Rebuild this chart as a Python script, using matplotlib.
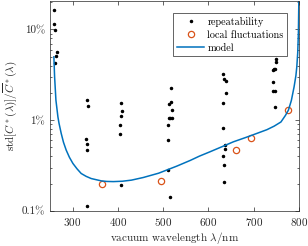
import numpy as np
import matplotlib
matplotlib.use('Agg')
import matplotlib.pyplot as plt
from matplotlib.ticker import FixedLocator, FuncFormatter, LogLocator, NullFormatter

plt.rcParams['font.family'] = 'serif'
plt.rcParams['font.serif'] = ['cmr10']
plt.rcParams['mathtext.fontset'] = 'cm'
plt.rcParams['axes.formatter.use_mathtext'] = True

# repeatability (wavelength in nm, relative std as fraction)
rep_wl = [259, 260, 262, 265, 263, 262,
          331, 335, 330, 331, 332, 333,
          408, 410, 407, 405, 405, 408,
          517, 518, 514, 519, 514, 516, 520, 510, 511, 511, 516,
          631, 634, 639, 639, 633, 631, 637, 636, 632, 634, 635,
          749, 750, 744, 746, 743, 743, 743, 746, 747]
rep_val = [0.164, 0.114, 0.099, 0.0566, 0.0512, 0.0422,
           0.0168, 0.0142, 0.00618, 0.0054, 0.00463, 0.00113,
           0.0153, 0.0126, 0.011, 0.00888, 0.00701, 0.00194,
           0.0224, 0.0159, 0.0151, 0.0131, 0.01045, 0.01045, 0.01045, 0.00887, 0.00597, 0.00283, 0.00142,
           0.0321, 0.0285, 0.0267, 0.0197, 0.0153, 0.00816, 0.00526, 0.00483, 0.00398, 0.00319, 0.00206,
           0.0467, 0.0436, 0.0368, 0.0365, 0.0353, 0.0261, 0.0212, 0.0212, 0.0141]

# local fluctuations
loc_wl = [364, 496, 660, 695, 776]
loc_val = [0.00197, 0.00214, 0.00467, 0.00638, 0.0131]

# model curve
mod_wl = [258.8, 260.4, 263.3, 267.7, 270, 275, 280, 286, 293, 300.8, 310, 319.1, 330,
          341.2, 363.3, 375, 390, 410, 430, 456, 490, 530, 560, 580, 603, 630, 655,
          680, 695, 710, 729, 745, 760, 770, 776.5, 783, 789, 793, 795, 797, 798.5, 799.5]
mod_val = [0.0499, 0.030, 0.0166, 0.01086, 0.0093, 0.00713, 0.0057, 0.00467, 0.0039, 0.00333,
           0.0029, 0.00258, 0.0024, 0.00227, 0.00214, 0.00211, 0.0021, 0.00212, 0.00218, 0.00233,
           0.0026, 0.00311, 0.0036, 0.00401, 0.00447, 0.0051, 0.00577, 0.00638, 0.00679, 0.00724,
           0.00785, 0.00859, 0.00955, 0.0113, 0.0129, 0.0165, 0.0233, 0.031, 0.0387, 0.055, 0.091, 0.205]

fig = plt.figure(figsize=(3.08, 2.46), dpi=100)
ax = fig.add_axes([0.162, 0.143, 0.809, 0.852])

ax.plot(rep_wl, rep_val, linestyle='none', marker='.', color='black', markersize=3,
        label='repeatability')
ax.plot(loc_wl, loc_val, linestyle='none', marker='o', markerfacecolor='none',
        markeredgecolor='#D95319', markersize=4.5, markeredgewidth=0.9,
        label='local fluctuations')
ax.plot(mod_wl, mod_val, color='#0072BD', linewidth=1.1, label='model')

ax.set_yscale('log')
ax.set_xlim(250, 800)
ax.set_ylim(0.001, 0.205)

ax.xaxis.set_major_locator(FixedLocator([300, 400, 500, 600, 700, 800]))
ax.yaxis.set_major_locator(FixedLocator([0.001, 0.01, 0.1]))
ax.yaxis.set_major_formatter(FuncFormatter(lambda v, p: {0.001: '0.1%', 0.01: '1%', 0.1: '10%'}.get(round(v, 4), '')))
ax.yaxis.set_minor_locator(LogLocator(base=10, subs=np.arange(2, 10)))
ax.yaxis.set_minor_formatter(NullFormatter())

ax.tick_params(which='both', direction='in', top=True, right=True, colors='0.15',
               labelsize=8, width=0.5)
ax.tick_params(which='major', length=3)
ax.tick_params(which='minor', length=1.5)
for s in ax.spines.values():
    s.set_color('0.15')
    s.set_linewidth(0.5)

ax.set_xlabel(r'vacuum wavelength $\lambda/\mathrm{nm}$', fontsize=8, color='0.15', labelpad=2)
ax.set_ylabel(r"$\mathrm{std}[C^*(\lambda)]/\overline{C}^*(\lambda)$", fontsize=8, color='0.15', labelpad=1)

leg = ax.legend(loc='upper right', bbox_to_anchor=(0.952, 0.944), borderaxespad=0,
                fontsize=7.3, fancybox=False, framealpha=1, edgecolor='0.15',
                handlelength=2.7, handletextpad=0.3, borderpad=0.35, labelspacing=0.35)
leg.get_frame().set_linewidth(0.5)

fig.savefig('out.png', dpi=100)
